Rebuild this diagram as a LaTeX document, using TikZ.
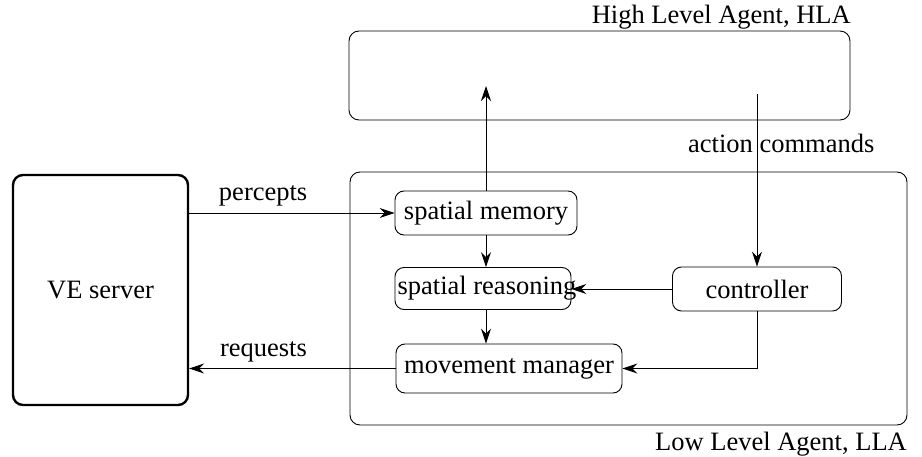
\documentclass[tikz,border=0pt]{standalone}
\usepackage{fontspec}
\setmainfont{Liberation Serif}
\usetikzlibrary{arrows.meta}
\begin{document}
\begin{tikzpicture}[x=1pt,y=-1pt,
  every node/.style={font=\rmfamily\fontsize{26.5}{31}\selectfont},
  box/.style={draw, rounded corners=9pt, line width=0.9pt, inner sep=0pt},
  agent/.style={draw, rounded corners=10pt, line width=0.9pt},
  conn/.style={line width=0.9pt, -{Stealth[length=15pt,width=10pt,inset=5pt]}},
  lbl/.style={inner sep=0pt}]
\useasboundingbox (0,0) rectangle (922,457);
% agents
\draw[agent] (349,31) rectangle (850,120);
\draw[agent] (350,172) rectangle (907,425);
\node[lbl, anchor=base east] (hlal) at (851,24) {High Level Agent, HLA};
\node[lbl, anchor=base east] (llal) at (907,450) {Low Level Agent, LLA};
\coordinate (hlaup) at (486,86);
\coordinate (hladown) at (757,94);
% boxes
\node[box, line width=2.4pt, rounded corners=10pt, minimum width=175pt, minimum height=230pt] (ve) at (100.5,290) {VE server};
\node[box, minimum width=182pt, minimum height=44pt] (sm) at (486,213) {spatial memory};
\node[box, minimum width=176pt, minimum height=42pt] (sr) at (483,288.5) {};
\node[box, minimum width=226pt, minimum height=49pt] (mm) at (509,368.5) {movement manager};
\node[box, minimum width=169pt, minimum height=44pt] (ctrl) at (757,289) {controller};
% connectors
\draw[conn] (ve.east |- sm.west) -- node[lbl, above=6pt, pos=0.36] (perc) {percepts} (sm.west);
\draw[conn] (mm.west) -- node[lbl, above=6pt, pos=0.64] (req) {requests} (ve.east |- mm.west);
\draw[conn] (sm.north -| hlaup) -- (hlaup);
\draw[conn] (hladown) -- (ctrl.north);
\node[lbl, anchor=base west] (ac) at (688,153) {action commands};
\draw[conn] (sm.south -| hlaup) -- (sr.north -| hlaup);
\draw[conn] (sr.south -| hlaup) -- (mm.north -| hlaup);
\draw[conn] (ctrl.west) -- (sr.east |- ctrl.west);
\draw[conn] (ctrl.south) |- (mm.east);
\node[lbl] (srt) at ([xshift=4pt]sr.center) {spatial reasoning};
\end{tikzpicture}
\end{document}
